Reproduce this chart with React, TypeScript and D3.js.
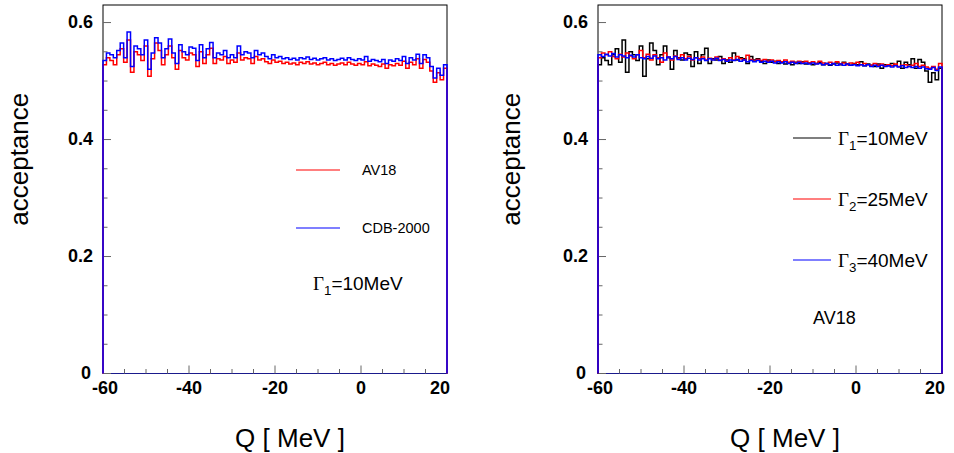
import React from "react";
import * as d3 from "d3";

const Q_MIN = -60;
const Q_MAX = 20;
const Y_MAX = 0.63;

const xTicksMajor = [-60, -40, -20, 0, 20];
const xTickLabels = ["-60", "-40", "-20", "0", "20"];
const xLabelShift = [2, 0, 0, 0, -7];
const yTicksMajor = [0, 0.2, 0.4, 0.6];
const yTickLabels = ["0", "0.2", "0.4", "0.6"];
const yLabelGap = [12, 10, 10, 10];

// AV18, Gamma1 = 10 MeV
const av18G10 = [
  0.528, 0.540, 0.535, 0.528, 0.545, 0.555, 0.532, 0.570, 0.515, 0.550,
  0.545, 0.535, 0.560, 0.508, 0.538, 0.565, 0.552, 0.528, 0.545, 0.560,
  0.540, 0.520, 0.552, 0.540, 0.536, 0.548, 0.545, 0.525, 0.550, 0.530,
  0.545, 0.556, 0.530, 0.538, 0.536, 0.542, 0.530, 0.536, 0.532, 0.548,
  0.536, 0.540, 0.538, 0.530, 0.542, 0.536, 0.538, 0.533, 0.530, 0.536,
  0.532, 0.534, 0.530, 0.532, 0.529, 0.531, 0.528, 0.532, 0.530, 0.533,
  0.529, 0.531, 0.528, 0.530, 0.532, 0.528, 0.530, 0.527, 0.529, 0.531,
  0.528, 0.532, 0.529, 0.527, 0.530, 0.528, 0.533, 0.526, 0.529, 0.527,
  0.525, 0.529, 0.522, 0.528, 0.526, 0.530, 0.527, 0.534, 0.522, 0.532,
  0.528, 0.538, 0.522, 0.537, 0.532, 0.517, 0.498, 0.514, 0.502, 0.522,
];

// CDB-2000, Gamma1 = 10 MeV
const cdbG10 = [
  0.535, 0.548, 0.545, 0.540, 0.552, 0.565, 0.540, 0.584, 0.525, 0.560,
  0.555, 0.545, 0.570, 0.520, 0.548, 0.574, 0.565, 0.540, 0.555, 0.572,
  0.548, 0.530, 0.562, 0.550, 0.545, 0.558, 0.556, 0.535, 0.562, 0.540,
  0.555, 0.566, 0.540, 0.548, 0.545, 0.552, 0.540, 0.545, 0.540, 0.560,
  0.545, 0.550, 0.548, 0.540, 0.552, 0.545, 0.548, 0.542, 0.538, 0.545,
  0.540, 0.542, 0.538, 0.540, 0.537, 0.539, 0.536, 0.540, 0.538, 0.541,
  0.537, 0.539, 0.536, 0.538, 0.540, 0.536, 0.538, 0.535, 0.537, 0.539,
  0.536, 0.540, 0.537, 0.535, 0.538, 0.536, 0.542, 0.534, 0.537, 0.535,
  0.533, 0.537, 0.530, 0.536, 0.534, 0.538, 0.535, 0.542, 0.530, 0.540,
  0.536, 0.546, 0.530, 0.545, 0.540, 0.525, 0.505, 0.522, 0.510, 0.528,
];

// AV18, Gamma2 = 25 MeV
const av18G25 = [
  0.540, 0.548, 0.545, 0.550, 0.542, 0.538, 0.546, 0.541, 0.548, 0.543,
  0.538, 0.545, 0.552, 0.540, 0.546, 0.536, 0.545, 0.540, 0.532, 0.548,
  0.541, 0.536, 0.543, 0.539, 0.545, 0.538, 0.542, 0.536, 0.540, 0.538,
  0.541, 0.536, 0.539, 0.537, 0.541, 0.536, 0.538, 0.535, 0.540, 0.536,
  0.542, 0.538, 0.536, 0.544, 0.537, 0.534, 0.537, 0.535, 0.537, 0.534,
  0.536, 0.533, 0.535, 0.533, 0.536, 0.532, 0.534, 0.531, 0.534, 0.532,
  0.534, 0.531, 0.533, 0.530, 0.534, 0.531, 0.529, 0.532, 0.530, 0.533,
  0.529, 0.531, 0.528, 0.531, 0.529, 0.532, 0.528, 0.530, 0.528, 0.527,
  0.530, 0.527, 0.529, 0.526, 0.528, 0.526, 0.529, 0.525, 0.527, 0.528,
  0.525, 0.527, 0.530, 0.525, 0.527, 0.524, 0.522, 0.525, 0.520, 0.530,
];

// AV18, Gamma3 = 40 MeV
const av18G40 = [
  0.545, 0.542, 0.546, 0.543, 0.547, 0.541, 0.545, 0.543, 0.540, 0.544,
  0.541, 0.545, 0.540, 0.538, 0.542, 0.539, 0.543, 0.538, 0.540, 0.536,
  0.541, 0.538, 0.542, 0.537, 0.540, 0.536, 0.539, 0.537, 0.540, 0.536,
  0.538, 0.535, 0.538, 0.536, 0.539, 0.535, 0.537, 0.534, 0.536, 0.535,
  0.537, 0.534, 0.536, 0.533, 0.535, 0.533, 0.535, 0.532, 0.534, 0.532,
  0.534, 0.531, 0.533, 0.531, 0.533, 0.530, 0.532, 0.530, 0.532, 0.530,
  0.531, 0.529, 0.531, 0.529, 0.530, 0.528, 0.530, 0.528, 0.530, 0.527,
  0.529, 0.527, 0.529, 0.527, 0.528, 0.526, 0.528, 0.526, 0.528, 0.525,
  0.527, 0.525, 0.527, 0.525, 0.526, 0.524, 0.526, 0.524, 0.526, 0.523,
  0.525, 0.523, 0.525, 0.522, 0.524, 0.521, 0.520, 0.523, 0.518, 0.524,
];

type Series = { values: number[]; color: string };

const SANS = "'Liberation Sans', Arial, Helvetica, sans-serif";
const SERIF = "'Liberation Serif', 'Times New Roman', serif";

function Gamma({ x, y, sub, rest, size }: { x: number; y: number; sub: string; rest: string; size: number }) {
  return (
    <text x={x} y={y} fontSize={size} fontFamily={SANS} fill="#000">
      <tspan fontFamily={SERIF}>Γ</tspan>
      <tspan fontSize={size * 0.7} dy={size * 0.28}>{sub}</tspan>
      <tspan dy={-size * 0.28}>{rest}</tspan>
    </text>
  );
}

function Panel({ left, titleX, series, children }: { left: number; titleX: number; series: Series[]; children?: React.ReactNode }) {
  const top = 5;
  const bottom = 373.5;
  const width = 344;
  const x = d3.scaleLinear().domain([Q_MIN, Q_MAX]).range([left, left + width]);
  const y = d3.scaleLinear().domain([0, Y_MAX]).range([bottom, top]);
  const xMinor = d3.range(Q_MIN, Q_MAX + 0.001, 5);
  const yMinor = d3.range(0, 0.6001, 0.05);

  const makePath = (vals: number[]) => {
    const n = vals.length;
    const bw = (Q_MAX - Q_MIN) / n;
    const pts: [number, number][] = [[Q_MIN, 0]];
    vals.forEach((v, i) => pts.push([Q_MIN + i * bw, v]));
    pts.push([Q_MAX, vals[n - 1]]);
    pts.push([Q_MAX, 0]);
    return d3
      .line<[number, number]>()
      .x((d) => x(d[0]))
      .y((d) => y(d[1]))
      .curve(d3.curveStepAfter)(pts) as string;
  };

  return (
    <g>
      <rect x={left} y={top} width={width} height={bottom - top} fill="none" stroke="#000" strokeWidth={1} />
      <line x1={left} x2={left + width} y1={bottom} y2={bottom} stroke="#1a1a8c" strokeWidth={1.2} />
      {yMinor.map((v, i) => {
        const major = yTicksMajor.some((m) => Math.abs(m - v) < 1e-6);
        return (
          <line key={"yt" + i} x1={left} x2={left + (major ? 8 : 4.5)} y1={y(v)} y2={y(v)} stroke="#666" strokeWidth={1} />
        );
      })}
      {xMinor.map((v, i) => {
        const major = xTicksMajor.includes(Math.round(v));
        return (
          <line key={"xt" + i} x1={x(v)} x2={x(v)} y1={bottom} y2={bottom - (major ? 8 : 4.5)} stroke="#666" strokeWidth={1} />
        );
      })}
      {yTicksMajor.map((v, i) => (
        <text key={"yl" + i} x={left - yLabelGap[i]} y={y(v) + 5} textAnchor="end" fontFamily={SANS} fontWeight="bold" fontSize={18}>
          {yTickLabels[i]}
        </text>
      ))}
      {xTicksMajor.map((v, i) => (
        <text key={"xl" + i} x={x(v) + xLabelShift[i]} y={394} textAnchor="middle" fontFamily={SANS} fontWeight="bold" fontSize={18}>
          {xTickLabels[i]}
        </text>
      ))}
      {series.map((s, i) => (
        <path key={"s" + i} d={makePath(s.values)} fill="none" stroke={s.color} strokeWidth={1.5} strokeLinejoin="miter" />
      ))}
      <text
        transform={`translate(${titleX},${(top + bottom) / 2 - 30}) rotate(-90)`}
        textAnchor="middle"
        fontFamily={SANS}
        fontSize={26}
      >
        acceptance
      </text>
      <text x={left + width / 2 + 15} y={447} textAnchor="middle" fontFamily={SANS} fontSize={26}>
        Q [ MeV ]
      </text>
      {children}
    </g>
  );
}

export default function App() {
  return (
    <svg width={954} height={453} style={{ position: "absolute", left: 0, top: 0, background: "#fff" }}>
      <rect x={0} y={0} width={954} height={453} fill="#fff" />
      <Panel
        left={103}
        titleX={28}
        series={[
          { values: av18G10, color: "#ff0000" },
          { values: cdbG10, color: "#0000ff" },
        ]}
      >
        <line x1={296} x2={340} y1={170} y2={170} stroke="#ff0000" strokeWidth={1.2} />
        <text x={362} y={175} fontFamily={SANS} fontSize={14.5}>AV18</text>
        <line x1={296} x2={340} y1={228} y2={228} stroke="#0000ff" strokeWidth={1.2} />
        <text x={362} y={233} fontFamily={SANS} fontSize={14.5}>CDB-2000</text>
        <Gamma x={313} y={290} sub="1" rest="=10MeV" size={19} />
      </Panel>
      <Panel
        left={598}
        titleX={520}
        series={[
          { values: av18G10, color: "#000000" },
          { values: av18G25, color: "#ff0000" },
          { values: av18G40, color: "#0000ff" },
        ]}
      >
        <line x1={793} x2={831} y1={138} y2={138} stroke="#000" strokeWidth={1.2} />
        <Gamma x={838} y={145} sub="1" rest="=10MeV" size={19} />
        <line x1={793} x2={831} y1={199} y2={199} stroke="#ff0000" strokeWidth={1.2} />
        <Gamma x={838} y={206} sub="2" rest="=25MeV" size={19} />
        <line x1={793} x2={831} y1={260} y2={260} stroke="#0000ff" strokeWidth={1.2} />
        <Gamma x={838} y={267} sub="3" rest="=40MeV" size={19} />
        <text x={813} y={324} fontFamily={SANS} fontSize={18}>AV18</text>
      </Panel>
    </svg>
  );
}
